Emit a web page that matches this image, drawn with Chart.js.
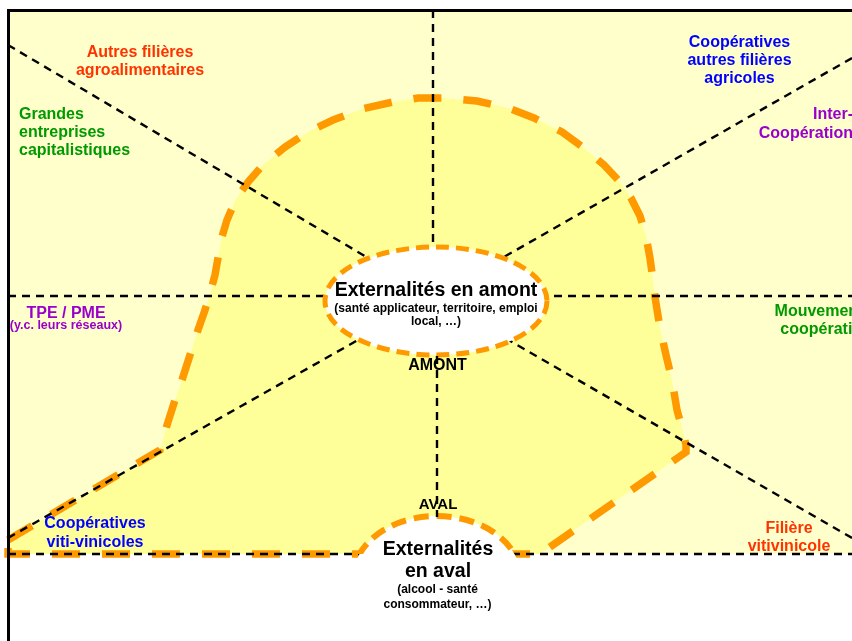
<!DOCTYPE html>
<html lang="fr">
<head>
  <meta charset="UTF-8">
  <title>Externalités</title>
  <script src="https://cdn.jsdelivr.net/npm/chart.js"></script>
  <style>
    body { margin: 0; background: #fff; }
    #box { width: 852px; height: 641px; }
  </style>
</head>
<body>
  <div id="box"><canvas id="schema"></canvas></div>

  <script>
    // fond jaune clair et cadre
    const panelCorners = [[8, 10], [852, 10], [852, 554], [8, 554], [8, 10]];
    const frameLine = [[8.5, 641], [8.5, 10.5], [852, 10.5]];

    // contour de la zone orange
    const zoneOutline = [
      [8, 540], [160, 450], [162, 442], [168, 422], [175, 400], [182, 380], [190, 355],
      [198, 330], [205, 310], [211, 290], [215, 275], [218, 258], [221, 240], [227, 220],
      [236, 199], [248, 182], [262, 166], [285, 147], [308, 132], [333, 120], [362, 109],
      [393, 102], [418, 98], [442, 98], [477, 101], [508, 108], [534, 118], [562, 132],
      [584, 148], [604, 165], [619, 181], [631, 198], [640, 216], [646, 236], [650, 258],
      [653, 280], [655, 297], [660, 328], [666, 355], [672, 380], [677, 410], [682, 428],
      [686, 445], [686, 452], [540, 554], [8, 554], [8, 540]
    ];

    // traits pointillés noirs
    const guideLines = [
      [[433, 10], [433, 297]],
      [[8, 296], [852, 296]],
      [[8, 45], [434, 297]],
      [[852, 58], [434, 297]],
      [[8, 538], [434, 297]],
      [[852, 538], [434, 297]],
      [[8, 554], [852, 554]]
    ];
    // trait amont-aval, par-dessus les bulles
    const axisLine = [[437, 356], [437, 517]];

    // ellipses : centre x, centre y, rayon x, rayon y
    const bubbleAmont = [436, 301, 111, 54];
    const bubbleAval = [437, 578, 84, 62];

    const sectorNames = [
      'Autres filières\nagroalimentaires',
      'Grandes\nentreprises\ncapitalistiques',
      'Coopératives\nautres filières\nagricoles',
      'Inter-\nCoopération',
      'TPE / PME',
      '(y.c. leurs réseaux)',
      'Mouvement\ncoopératif',
      'Coopératives\nviti-vinicoles',
      'Filière\nvitivinicole'
    ];
    const bubbleTexts = [
      'Externalités en amont',
      '(santé applicateur, territoire, emploi\nlocal, …)',
      'AMONT',
      'AVAL',
      'Externalités\nen aval',
      '(alcool - santé\nconsommateur, …)'
    ];

    // mise en page des textes : x, y de la 1re ligne, interligne, taille, couleur, alignement
    const sectorLayout = [
      [140, 57, 18, 16, '#FF3300', 'center'],
      [19, 119, 18, 16, '#009900', 'left'],
      [739.5, 47, 18, 16, '#0000FF', 'center'],
      [853, 119, 19, 16, '#9900CC', 'right'],
      [66, 318, 0, 16, '#9900CC', 'center'],
      [66, 329, 0, 12.5, '#9900CC', 'center'],
      [819, 316, 18, 16, '#009900', 'center'],
      [95, 528, 19, 16, '#0000FF', 'center'],
      [789, 533, 18, 16, '#FF3300', 'center']
    ];
    const bubbleLayout = [
      [436, 296, 0, 19.5],
      [436, 312, 13, 12],
      [437.5, 370, 0, 16],
      [438, 509, 0, 15],
      [438, 555, 22, 19.5],
      [437.5, 593, 15, 12]
    ];

    const toPts = arr => arr.map(p => ({ x: p[0], y: p[1] }));

    const datasets = [
      {
        label: 'cadre', data: toPts(frameLine), showLine: true, fill: false,
        borderColor: '#000', borderWidth: 3, pointRadius: 0, order: 0
      },
      {
        label: 'amont-aval', data: toPts(axisLine), showLine: true, fill: false,
        borderColor: '#000', borderWidth: 2.4, borderDash: [8, 6], pointRadius: 0, order: 1
      },
      {
        label: 'zone', data: toPts(zoneOutline), showLine: true, fill: 'shape',
        backgroundColor: '#FFFF99', borderColor: '#FF9900', borderWidth: 7.5,
        borderDash: [28, 22], borderCapStyle: 'butt', pointRadius: 0, order: 8
      },
      {
        label: 'fond', data: toPts(panelCorners), showLine: true, fill: 'shape',
        backgroundColor: '#FFFFCC', borderColor: 'transparent', borderWidth: 0,
        pointRadius: 0, order: 10
      }
    ];
    guideLines.forEach((l, i) => {
      datasets.push({
        label: 'trait' + i, data: toPts(l), showLine: true, fill: false,
        borderColor: '#000', borderWidth: 2.4, borderDash: [8, 6], pointRadius: 0, order: 5
      });
    });

    function drawLines(ctx, text, x, y, gap) {
      text.split('\n').forEach((t, i) => ctx.fillText(t, x, y + i * gap));
    }

    // bulles blanches : après les traits, juste avant le trait amont-aval
    const bubblePlugin = {
      id: 'bulles',
      beforeDatasetDraw(chart, args) {
        if (chart.data.datasets[args.index].label !== 'amont-aval') return;
        const ctx = chart.ctx;
        const sx = chart.scales.x, sy = chart.scales.y;
        const px = v => sx.getPixelForValue(v);
        const py = v => sy.getPixelForValue(v);
        const rx = r => px(r) - px(0);
        const ry = r => py(r) - py(0);

        ctx.save();
        ctx.beginPath();
        ctx.ellipse(px(bubbleAmont[0]), py(bubbleAmont[1]), rx(bubbleAmont[2]), ry(bubbleAmont[3]), 0, 0, Math.PI * 2);
        ctx.fillStyle = '#fff';
        ctx.fill();
        ctx.setLineDash([13, 7]);
        ctx.lineWidth = 5;
        ctx.strokeStyle = '#FF9900';
        ctx.stroke();
        ctx.restore();

        // bulle aval, coupée par le bas du cadre
        ctx.save();
        ctx.beginPath();
        ctx.ellipse(px(bubbleAval[0]), py(bubbleAval[1]), rx(bubbleAval[2]), ry(bubbleAval[3]), 0, 0, Math.PI * 2);
        ctx.fillStyle = '#fff';
        ctx.fill();
        ctx.beginPath();
        ctx.rect(0, 0, chart.width, py(554));
        ctx.clip();
        ctx.beginPath();
        ctx.ellipse(px(bubbleAval[0]), py(bubbleAval[1]), rx(bubbleAval[2]), ry(bubbleAval[3]), 0, 0, Math.PI * 2);
        ctx.setLineDash([15, 8]);
        ctx.lineWidth = 6;
        ctx.strokeStyle = '#FF9900';
        ctx.stroke();
        ctx.restore();
      }
    };

    const textPlugin = {
      id: 'textes',
      afterDatasetsDraw(chart) {
        const ctx = chart.ctx;
        const px = v => chart.scales.x.getPixelForValue(v);
        const py = v => chart.scales.y.getPixelForValue(v);
        ctx.save();
        ctx.textBaseline = 'alphabetic';
        sectorNames.forEach((t, i) => {
          const [x, y, gap, size, color, align] = sectorLayout[i];
          ctx.font = 'bold ' + size + 'px "Liberation Sans", Arial, sans-serif';
          ctx.fillStyle = color;
          ctx.textAlign = align;
          drawLines(ctx, t, px(x), py(y), gap);
        });
        bubbleTexts.forEach((t, i) => {
          const [x, y, gap, size] = bubbleLayout[i];
          ctx.font = 'bold ' + size + 'px "Liberation Sans", Arial, sans-serif';
          ctx.fillStyle = '#000';
          ctx.textAlign = 'center';
          drawLines(ctx, t, px(x), py(y), gap);
        });
        ctx.restore();
      }
    };

    new Chart(document.getElementById('schema'), {
      type: 'scatter',
      data: { datasets: datasets },
      options: {
        responsive: true,
        maintainAspectRatio: false,
        animation: false,
        layout: { padding: 0 },
        scales: {
          x: { type: 'linear', min: 0, max: 852, display: false },
          y: { type: 'linear', min: 0, max: 641, reverse: true, display: false }
        },
        plugins: { legend: { display: false }, tooltip: { enabled: false } }
      },
      plugins: [bubblePlugin, textPlugin]
    });
  </script>
</body>
</html>
